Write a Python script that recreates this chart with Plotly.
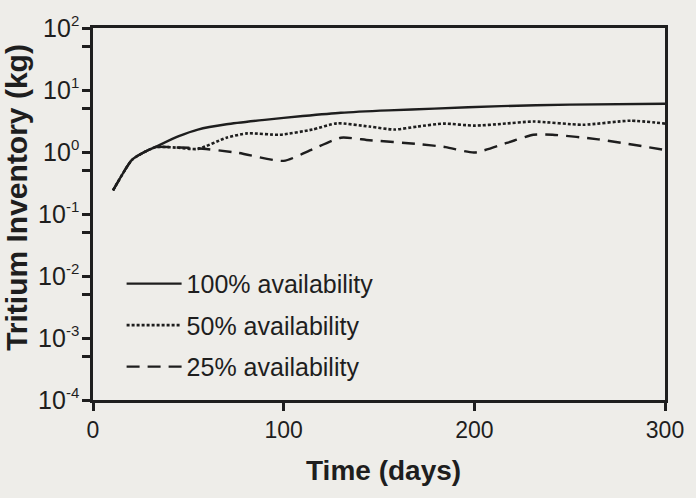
import plotly.graph_objects as go

# ---- data ----
days_100 = [10.5, 20.5, 27, 33, 45, 55, 70, 90, 110, 130, 155, 179, 214, 250, 300]
inv_100 = [0.24, 0.75, 1.0, 1.22, 1.8, 2.3, 2.8, 3.3, 3.8, 4.3, 4.7, 5.0, 5.5, 5.8, 6.0]

days_50 = [10.5, 20.5, 27, 33, 45, 55, 70, 81, 98, 115, 128, 145, 158, 170, 184, 200, 215, 231, 257, 282, 300]
inv_50 = [0.24, 0.75, 1.0, 1.2, 1.17, 1.12, 1.7, 2.0, 1.9, 2.3, 2.9, 2.57, 2.3, 2.57, 2.87, 2.66, 2.85, 3.1, 2.75, 3.2, 2.87]

days_25 = [10.5, 20.5, 27, 33, 45, 55, 76, 100, 115, 130, 145, 170, 185, 200, 217, 231, 241, 265, 300]
inv_25 = [0.24, 0.75, 1.0, 1.2, 1.18, 1.15, 0.97, 0.72, 1.1, 1.7, 1.55, 1.35, 1.2, 0.98, 1.4, 1.9, 1.9, 1.6, 1.08]

series_names = ["100% availability", "50% availability", "25% availability"]

x_ticks = [0, 100, 200, 300]
y_ticks = [1e-4, 1e-3, 1e-2, 1e-1, 1e0, 1e1, 1e2]
y_exponents = ["-4", "-3", "-2", "-1", "0", "1", "2"]
y_minor = [5e-4, 5e-3, 5e-2, 5e-1, 5e0, 5e1]

y_ticktext = [f"10<sup><span style='font-size:15px'>{e}</span></sup>" for e in y_exponents]

INK = "#1e1e1e"
PAPER = "#eeede9"
FONT = "Liberation Sans"

fig = go.Figure()
styles = [dict(dash="solid", width=2.4),
          dict(dash="3px,2px", width=2.6),
          dict(dash="13px,8px", width=2.4)]
for i, (xs, ys) in enumerate([(days_100, inv_100), (days_50, inv_50), (days_25, inv_25)]):
    fig.add_trace(go.Scatter(
        x=xs, y=ys, mode="lines", name=series_names[i],
        line=dict(color=INK, shape="spline", smoothing=0.6, **styles[i]),
        legendgroup=f"g{i}",
    ))

fig.update_layout(
    width=696, height=498,
    margin=dict(l=93, r=22, t=19, b=98),
    paper_bgcolor=PAPER, plot_bgcolor=PAPER,
    font=dict(family=FONT, color=INK),
    showlegend=True,
    legend=dict(x=0.05, xanchor="left", y=0.374, yanchor="top",
                bgcolor="rgba(0,0,0,0)", font=dict(size=25, family=FONT, color=INK),
                itemwidth=55, tracegroupgap=6),
    xaxis=dict(range=[0, 300], tickvals=x_ticks, showgrid=False, zeroline=False,
               showline=True, linewidth=2.5, linecolor=INK, mirror=True,
               ticks="outside", ticklen=8, tickwidth=2.5, tickcolor=INK,
               tickfont=dict(size=23, family=FONT, color=INK)),
    yaxis=dict(type="log", range=[-4, 2], tickvals=y_ticks, ticktext=y_ticktext,
               showgrid=False, zeroline=False,
               showline=True, linewidth=2.5, linecolor=INK, mirror=True,
               ticks="outside", ticklen=8, tickwidth=2.5, tickcolor=INK, ticklabelstandoff=-2,
               tickfont=dict(size=25, family=FONT, color=INK),
               minor=dict(tickvals=y_minor, ticks="outside", ticklen=8, tickwidth=2.5,
                          tickcolor=INK, showgrid=False)),
    annotations=[
        dict(text="<b>Time (days)</b>", xref="paper", yref="paper", x=0.508, y=-0.19,
             showarrow=False, font=dict(size=28, family=FONT, color=INK),
             xanchor="center", yanchor="middle"),
        dict(text="<b>Tritium Inventory (kg)</b>", xref="paper", yref="paper", x=-0.133, y=0.546,
             showarrow=False, textangle=-90, font=dict(size=30, family=FONT, color=INK),
             xanchor="center", yanchor="middle"),
    ],
)

fig.write_html("out.html")
